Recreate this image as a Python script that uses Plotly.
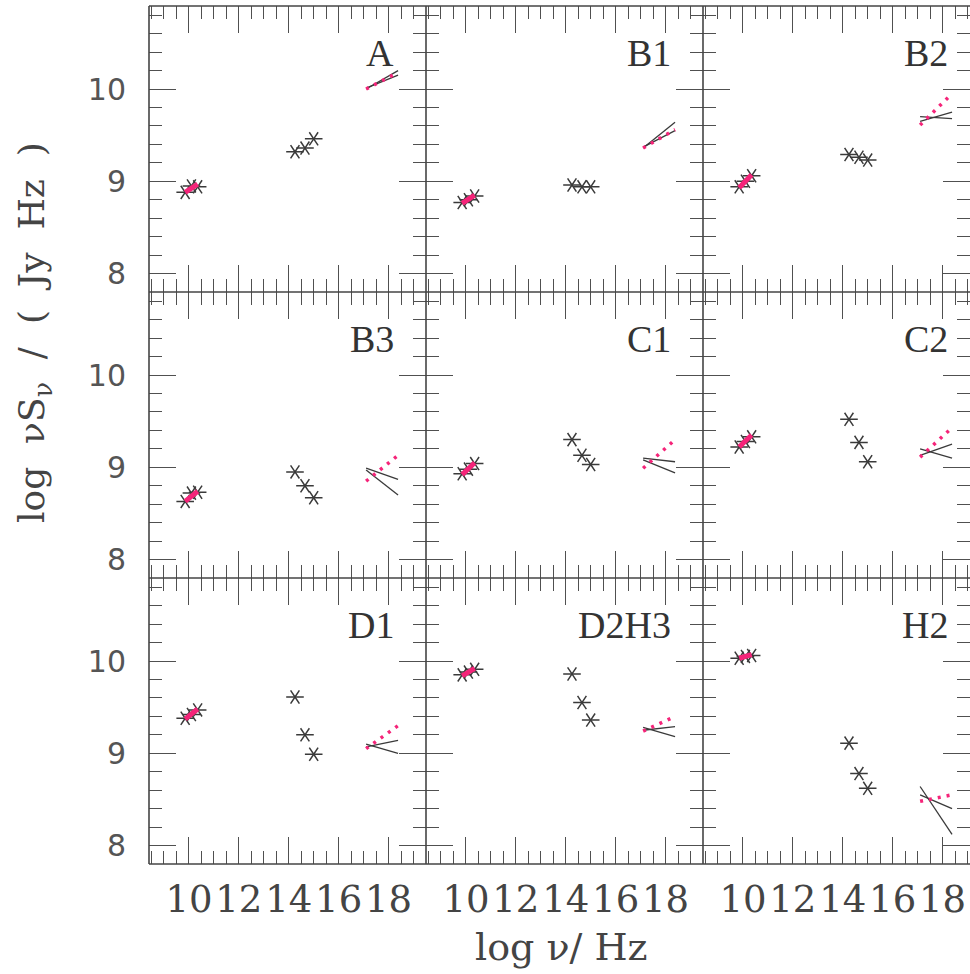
import plotly.graph_objects as go

# ---- data -------------------------------------------------------------
panels = ["A", "B1", "B2", "B3", "C1", "C2", "D1", "D2H3", "H2"]

radio_x = [9.85, 10.1, 10.35]
radio_y = [
    [8.88, 8.95, 8.94],
    [8.77, 8.80, 8.84],
    [8.94, 9.00, 9.06],
    [8.63, 8.72, 8.73],
    [8.93, 8.98, 9.04],
    [9.22, 9.28, 9.33],
    [9.38, 9.42, 9.47],
    [9.85, 9.88, 9.91],
    [10.03, 10.05, 10.06],
]
# power-law fit to the radio points (start, end)
radio_fit = [
    [8.88, 8.97],
    [8.76, 8.85],
    [8.93, 9.07],
    [8.63, 8.74],
    [8.92, 9.05],
    [9.22, 9.35],
    [9.37, 9.48],
    [9.84, 9.92],
    [10.03, 10.07],
]

opt_x = [14.25, 14.65, 15.0]
opt_y = [
    [9.32, 9.36, 9.46],
    [8.96, 8.94, 8.94],
    [9.29, 9.26, 9.23],
    [8.95, 8.80, 8.67],
    [9.30, 9.13, 9.03],
    [9.52, 9.27, 9.06],
    [9.61, 9.20, 8.99],
    [9.86, 9.55, 9.36],
    [9.11, 8.78, 8.62],
]

# X-ray band: bow-tie limits and best-fit slope (start, end)
xray_x = [17.1, 18.38]
xray_lo = [
    [10.01, 10.15],
    [9.37, 9.55],
    [9.70, 9.68],
    [8.97, 8.70],
    [9.08, 8.94],
    [9.20, 9.10],
    [9.10, 9.00],
    [9.28, 9.18],
    [8.64, 8.12],
]
xray_hi = [
    [10.00, 10.20],
    [9.36, 9.64],
    [9.65, 9.75],
    [8.99, 8.87],
    [9.10, 9.06],
    [9.13, 9.25],
    [9.07, 9.14],
    [9.25, 9.29],
    [8.55, 8.40],
]
xray_fit = [
    [10.00, 10.18],
    [9.36, 9.56],
    [9.61, 9.95],
    [8.85, 9.13],
    [8.99, 9.30],
    [9.11, 9.43],
    [9.05, 9.30],
    [9.24, 9.40],
    [8.48, 8.55],
]

x_ticks = [10, 12, 14, 16, 18]
y_ticks = [8, 9, 10]

# ---- page geometry ----------------------------------------------------
W, H = 970, 974
col_left = [149, 426, 703]
col_w = 277
row_top = [6, 292, 578]
row_h = 286
X0, X1 = 8.4, 19.5
Y0, Y1 = 7.8, 10.9

INK = "#3a3a3a"
TICK = "#505050"
PINK = "#f52479"

fig = go.Figure()
layout = dict(
    width=W, height=H,
    margin=dict(l=0, r=0, t=0, b=0),
    paper_bgcolor="white", plot_bgcolor="white",
    showlegend=False,
)

annotations = []
shapes = []

for i, name in enumerate(panels):
    r, c = divmod(i, 3)
    left = col_left[c]
    right = min(left + col_w, W)
    top = row_top[r]
    bottom = top + row_h
    xname = "xaxis" if i == 0 else f"xaxis{i + 1}"
    yname = "yaxis" if i == 0 else f"yaxis{i + 1}"
    xa = "x" if i == 0 else f"x{i + 1}"
    ya = "y" if i == 0 else f"y{i + 1}"

    xmax = X0 + (X1 - X0) * (right - left) / col_w
    layout[xname] = dict(
        domain=[left / W, right / W], range=[X0, xmax], anchor=ya,
        showgrid=False, zeroline=False, showline=False,
        ticks="inside", mirror="allticks", ticklen=27,
        tickcolor=TICK, tickwidth=1.3,
        tickvals=x_ticks, ticktext=[str(v) for v in x_ticks],
        showticklabels=(r == 2), tickangle=0,
        tickfont=dict(family="DejaVu Serif", size=37, color="#444"),
        ticklabelstandoff=10,
        minor=dict(dtick=0.5, tick0=10, ticks="inside", ticklen=13,
                   tickcolor=TICK, tickwidth=1.3, showgrid=False),
    )
    layout[yname] = dict(
        domain=[1 - bottom / H, 1 - top / H], range=[Y0, Y1], anchor=xa,
        showgrid=False, zeroline=False, showline=False,
        ticks="inside", mirror="allticks", ticklen=27,
        tickcolor=TICK, tickwidth=1.3,
        tickvals=y_ticks, ticktext=[str(v) for v in y_ticks],
        showticklabels=(c == 0),
        tickfont=dict(family="DejaVu Sans", size=30, color="#555"),
        ticklabelstandoff=22,
        minor=dict(dtick=0.2, tick0=8, ticks="inside", ticklen=13,
                   tickcolor=TICK, tickwidth=1.3, showgrid=False),
    )

    # radio and optical photometry
    for xs, ys in ((radio_x, radio_y[i]), (opt_x, opt_y[i])):
        for sym in ("y-left-open", "y-right-open"):
            fig.add_trace(go.Scatter(
                x=xs, y=ys, mode="markers", xaxis=xa, yaxis=ya,
                marker=dict(symbol=sym, size=11, color=INK,
                            line=dict(color=INK, width=1.5)),
                hoverinfo="skip"))

    # radio spectral fit
    fig.add_trace(go.Scatter(
        x=[radio_x[0], radio_x[-1]], y=radio_fit[i], mode="lines",
        xaxis=xa, yaxis=ya, line=dict(color=PINK, width=5),
        hoverinfo="skip"))

    # X-ray bow tie
    for ys in (xray_lo[i], xray_hi[i]):
        fig.add_trace(go.Scatter(
            x=xray_x, y=ys, mode="lines", xaxis=xa, yaxis=ya,
            line=dict(color=INK, width=1.3), hoverinfo="skip"))
    fig.add_trace(go.Scatter(
        x=xray_x, y=xray_fit[i], mode="lines", xaxis=xa, yaxis=ya,
        line=dict(color=PINK, width=3.5, dash="3px,6px"),
        hoverinfo="skip"))

    # panel label
    annotations.append(dict(
        text=name, xref="paper", yref="paper",
        x=(left + col_w - 30) / W, y=1 - (top + 47) / H,
        xanchor="right", yanchor="middle", showarrow=False,
        font=dict(family="Liberation Serif", size=38, color="#333")))

# frame lines
for xv in col_left:
    shapes.append(dict(type="line", xref="paper", yref="paper",
                       x0=xv / W, x1=xv / W,
                       y0=1 - row_top[0] / H, y1=1 - (row_top[2] + row_h) / H,
                       line=dict(color="#444", width=1.6)))
for yv in row_top + [row_top[2] + row_h]:
    shapes.append(dict(type="line", xref="paper", yref="paper",
                       x0=col_left[0] / W, x1=1.0,
                       y0=1 - yv / H, y1=1 - yv / H,
                       line=dict(color="#444", width=1.6)))

# axis titles
annotations.append(dict(
    text="log \u03bd/ Hz", xref="paper", yref="paper",
    x=561 / W, y=1 - 947 / H, xanchor="center", yanchor="middle",
    showarrow=False,
    font=dict(family="DejaVu Serif", size=38, color="#444")))
annotations.append(dict(
    text="log  \u03bdS<sub>\u03bd</sub>  /  (  Jy  Hz  )",
    xref="paper", yref="paper",
    x=35 / W, y=1 - 333 / H, xanchor="center", yanchor="middle",
    textangle=-90, showarrow=False,
    font=dict(family="DejaVu Serif", size=36, color="#444")))

layout["annotations"] = annotations
layout["shapes"] = shapes
fig.update_layout(**layout)
fig.write_html("out.html")
